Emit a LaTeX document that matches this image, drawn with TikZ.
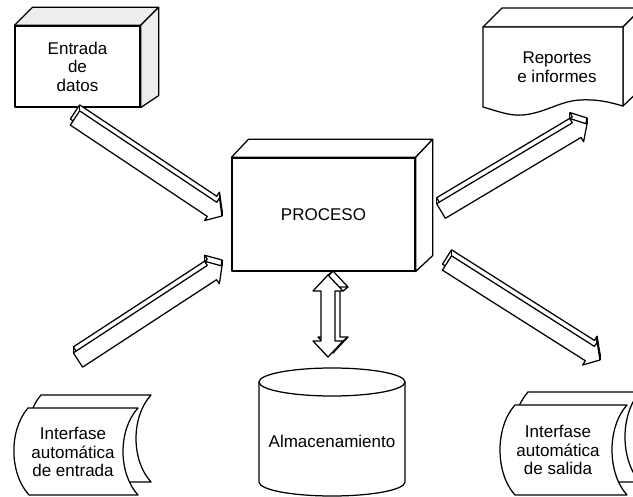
\documentclass[tikz,border=0pt]{standalone}
\usepackage{fontspec}
\setmainfont{Liberation Sans}
\usetikzlibrary{calc}
\tikzset{
  edge3d/.style={draw=black, line width=1.25pt, line join=round},
  face/.style={edge3d, fill=white},
  shadeface/.style={edge3d, fill=gray!14},
  lbl/.style={align=center, font=\fontsize{17}{18.5}\selectfont, inner sep=0pt},
}
\newcommand\blockarrow[2]{%
  \coordinate (#1h) at ($(#2)!12pt!(#1)$);
  \coordinate (#1a) at ($(#1)!8.5pt!90:(#2)$);
  \coordinate (#1b) at ($(#1h)!8.5pt!90:(#2)$);
  \coordinate (#1c) at ($(#1h)!13.5pt!90:(#2)$);
  \coordinate (#1d) at ($(#1h)!13.5pt!-90:(#2)$);
  \coordinate (#1e) at ($(#1h)!8.5pt!-90:(#2)$);
  \coordinate (#1f) at ($(#1)!8.5pt!-90:(#2)$);
  \path[face] ($(#1a)+(0,-6)$) -- ($(#1b)+(0,-6)$) -- ($(#1c)+(0,-6)$) -- ($(#2)+(0,-6)$)
     -- ($(#1d)+(0,-6)$) -- ($(#1e)+(0,-6)$) -- ($(#1f)+(0,-6)$) -- cycle;
  \path[face] (#1a) -- (#1b) -- (#1c) -- (#2) -- (#1d) -- (#1e) -- (#1f) -- cycle;
  \draw[edge3d] (#1a) -- ($(#1a)+(0,-6)$) (#1c) -- ($(#1c)+(0,-6)$) (#2) -- ($(#2)+(0,-6)$);
}
\begin{document}
\begin{tikzpicture}[x=1pt,y=-1pt]
\useasboundingbox (0,0) rectangle (633,497);
\fill[white] (0,0) rectangle (633,497);

% ---- Entrada de datos (3D box)
\node[face, minimum width=125, minimum height=81, lbl] (ent) at (77.5,66.5) {};
\path[shadeface] (ent.north west) -- ($(ent.north west)+(18,-18)$) -- ($(ent.north east)+(18,-18)$) -- (ent.north east) -- cycle;
\path[shadeface] (ent.north east) -- ($(ent.north east)+(18,-18)$) -- ($(ent.south east)+(18,-12)$) -- (ent.south east) -- cycle;
\node[lbl] (entt) at (ent.center) {Entrada\\de\\datos};

% ---- PROCESO (3D box)
\node[face, minimum width=183, minimum height=113] (proc) at (323.5,214.5) {};
\path[face] (proc.north west) -- ($(proc.north west)+(17,-18)$) -- ($(proc.north east)+(17,-18)$) -- (proc.north east) -- cycle;
\path[face] (proc.north east) -- ($(proc.north east)+(17,-18)$) -- ($(proc.south east)+(17,-16)$) -- (proc.south east) -- cycle;
\node[lbl] (proct) at (proc.center) {PROCESO};

% ---- Reportes e informes (3D document)
\path[face] (483,27) -- (502,8) -- (642,8) -- (623,27) -- cycle;
\path[face] (623,27) -- (642,8) -- (642,88) -- (623,106) -- cycle;
\path[face] (483,27) -- (623,27) -- (623,106)
  .. controls (612,103) and (600,99) .. (580,100)
  .. controls (560,101) and (545,113) .. (523,115)
  .. controls (510,116) and (500,112) .. (483,107) -- cycle;
\node[lbl] (rep) at (557,67) {Reportes\\e informes};

% ---- Almacenamiento (cylinder)
\coordinate (almtop) at (332,382);
\path[face] (259,382) -- (259,482) arc[start angle=180, end angle=360, x radius=73pt, y radius=14pt] -- (405,382) -- cycle;
\path[face] (almtop) ellipse[x radius=73pt, y radius=14pt];
\node[lbl] (alm) at (332,441) {Almacenamiento};

% ---- Interfase automatica de entrada
\path[face] (41,395) -- (151,395) .. controls (131,417) and (131,460) .. (151,482)
  -- (42,482) .. controls (22,460) and (22,417) .. (41,395) -- cycle;
\path[face] (28,408) -- (138,408) .. controls (118,430) and (118,473) .. (138,495)
  -- (29,495) .. controls (9,473) and (9,430) .. (28,408) -- cycle;
\node[lbl] (inA) at (73,452) {Interfase\\automática\\de entrada};

% ---- Interfase automatica de salida
\path[face] (528,392) -- (640,392) .. controls (620,414) and (620,460) .. (640,482)
  -- (528,482) .. controls (508,460) and (508,414) .. (528,392) -- cycle;
\path[face] (515,405) -- (627,405) .. controls (607,427) and (607,473) .. (627,495)
  -- (515,495) .. controls (495,473) and (495,427) .. (515,405) -- cycle;
\node[lbl] (outA) at (558,450) {Interfase\\automática\\de salida};

% ---- block arrows
\coordinate (aS) at (75,118);  \coordinate (aE) at (222,216);
\coordinate (bS) at (78,360);  \coordinate (bE) at (222,266);
\coordinate (cS) at (441,211); \coordinate (cE) at (587,124);
\coordinate (dS) at (447,263); \coordinate (dE) at (600,360);
\blockarrow{aS}{aE}
\blockarrow{bS}{bE}
\blockarrow{cS}{cE}
\blockarrow{dS}{dE}

% ---- double arrow PROCESO <-> Almacenamiento
\coordinate (vT) at (328,275);
\coordinate (vB) at (328,357);
\path[face] ($(vT)+(5,-4)$) -- ($(vT)+(20,12)$) -- ($(vT)+(12,12)$) -- ($(vB)+(12,-20)$)
  -- ($(vB)+(20,-20)$) -- ($(vB)+(5,-4)$) -- ($(vB)+(-10,-20)$) -- ($(vB)+(-2,-20)$)
  -- ($(vT)+(-2,12)$) -- ($(vT)+(-10,12)$) -- cycle;
\path[face] (vT) -- ($(vT)+(15,16)$) -- ($(vT)+(7,16)$) -- ($(vB)+(7,-16)$)
  -- ($(vB)+(15,-16)$) -- (vB) -- ($(vB)+(-15,-16)$) -- ($(vB)+(-7,-16)$)
  -- ($(vT)+(-7,16)$) -- ($(vT)+(-15,16)$) -- cycle;
\draw[edge3d] (vT) -- ($(vT)+(5,-4)$)
  ($(vT)+(15,16)$) -- ($(vT)+(20,12)$)
  ($(vB)+(15,-16)$) -- ($(vB)+(20,-20)$);
\end{tikzpicture}
\end{document}
